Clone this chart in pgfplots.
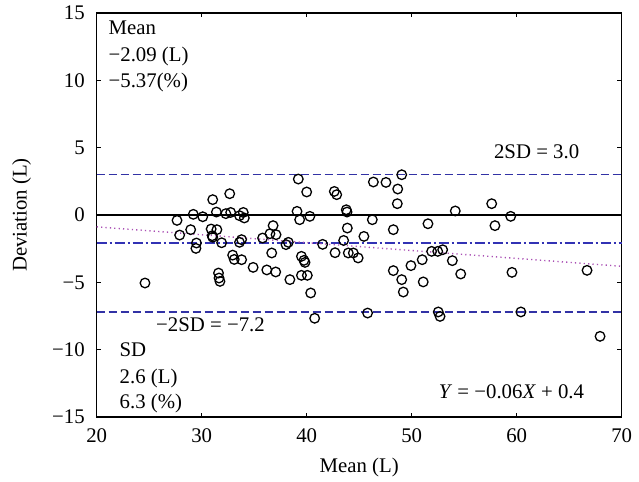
\documentclass[border=0pt]{standalone}
\usepackage{pgfplots}
\pgfplotsset{compat=1.18}
\usepackage{fontspec}
\setmainfont{Liberation Serif}
\definecolor{sdblue}{RGB}{50,50,165}
\definecolor{meanblue}{RGB}{50,50,180}
\definecolor{regpurple}{RGB}{170,80,180}

\begin{document}
\fontsize{10.4}{12}\selectfont
\begin{tikzpicture}
\begin{axis}[
  scale only axis, width=262.5pt, height=202pt,
  at={(0,0)}, anchor=south west,
  xmin=20, xmax=70, ymin=-15, ymax=15,
  xtick={20,30,40,50,60,70}, ytick={-15,-10,-5,0,5,10,15},
  xticklabels={20,30,40,50,60,70},
  yticklabels={−15,−10,−5,0,5,10,15},
  tick align=inside, major tick length=2.2pt,
  axis line style={line width=0.8pt},
  every tick/.style={black, line width=0.6pt},
  tick label style={font=\fontsize{10.4}{12}\selectfont, inner sep=0pt},
  xticklabel style={anchor=base, yshift=-13pt},
  yticklabel style={anchor=east, xshift=-5.8pt},
  every axis x label/.style={at={(axis description cs:0.5,0)}, anchor=base, yshift=-28pt, font=\fontsize{10.4}{12}\selectfont},
  every axis y label/.style={at={(axis description cs:-0.1429,0.5)}, rotate=90, anchor=center, font=\fontsize{10.4}{12}\selectfont},
  xlabel={Mean (L)}, ylabel={Deviation (L)},
  clip=false,
]
% zero line
\addplot[black, line width=0.55pt] coordinates {(20,0) (70,0)};
% +2SD
\addplot[sdblue, line width=0.7pt, dash pattern=on 4pt off 2pt] coordinates {(20,3.0) (70,3.0)};
% -2SD
\addplot[sdblue, line width=0.7pt, dash pattern=on 4pt off 2pt] coordinates {(20,-7.2) (70,-7.2)};
% mean
\addplot[meanblue, line width=0.75pt, dash pattern=on 5pt off 1.5pt on 1pt off 1.5pt] coordinates {(20,-2.09) (70,-2.09)};
% regression
\addplot[regpurple, line width=0.7pt, dash pattern=on 0.6pt off 1.6pt] coordinates {(20,-0.88) (70,-3.81)};
% data
\addplot[only marks, mark=o, mark size=2.4pt, mark options={black, line width=0.65pt}] coordinates {
(24.6,-5.05) (27.65,-0.40) (27.9,-1.49) (28.95,-1.09) (29.2,0.05)
(29.5,-2.08) (29.45,-2.48) (30.1,-0.13) (31.05,1.14) (31.4,0.22)
(30.9,-1.04) (31.0,-1.54) (31.05,-1.65) (31.45,-1.09) (31.9,-2.06)
(32.67,1.58) (32.3,0.10) (32.76,0.19) (31.6,-4.31) (31.65,-4.68)
(31.74,-4.93) (32.95,-2.98) (33.1,-3.30) (33.6,-0.05) (33.6,-2.03)
(33.96,0.19) (34.06,-0.22) (33.8,-1.83) (33.8,-3.32) (34.9,-3.89)
(36.2,-4.08) (37.05,-4.23) (35.8,-1.71) (36.5,-1.39) (37.08,-1.46)
(36.8,-0.79) (36.67,-2.82) (38.03,-2.2) (38.25,-2.03) (38.4,-4.8)
(39.2,2.67) (40.0,1.71) (39.08,0.27) (39.33,-0.35) (40.3,-0.10)
(39.5,-3.07) (39.74,-3.37) (39.84,-3.52) (39.5,-4.48) (40.06,-4.48)
(40.38,-5.79) (40.76,-7.67) (41.52,-2.18) (42.7,-2.8) (42.63,1.75)
(42.86,1.51) (43.77,0.39) (43.84,0.22) (43.87,-0.97) (43.52,-1.89)
(43.96,-2.82) (44.44,-2.82) (44.9,-3.19) (45.45,-1.59) (46.35,2.45)
(46.25,-0.35) (45.8,-7.28) (49.05,2.99) (47.55,2.42) (48.67,1.93)
(48.63,0.84) (48.25,-1.09) (51.55,-0.65) (54.15,0.30) (57.62,0.84)
(57.93,-0.79) (51.9,-2.70) (52.48,-2.70) (52.95,-2.58) (51.0,-3.32)
(49.93,-3.76) (48.25,-4.13) (49.05,-4.80) (49.2,-5.72) (51.1,-4.97)
(53.87,-3.39) (54.67,-4.38) (52.53,-7.2) (52.7,-7.53) (59.43,-0.10)
(59.55,-4.26) (60.4,-7.2) (66.7,-4.11) (67.94,-9.01)
};
\begin{scope}[every node/.style={inner sep=0pt, font=\fontsize{10.4}{12}\selectfont}]
\node[anchor=base west] at (axis cs:21.1,13.39) {Mean};
\node[anchor=base west] at (axis cs:21.1,11.40) {−2.09 (L)};
\node[anchor=base west] at (axis cs:21.1,9.50) {−5.37(\%)};
\node[anchor=base west] at (axis cs:22.15,-10.5) {SD};
\node[anchor=base west] at (axis cs:22.15,-12.48) {2.6 (L)};
\node[anchor=base west] at (axis cs:22.15,-14.38) {6.3 (\%)};
\node[anchor=base] at (axis cs:61.9,4.16) {2SD = 3.0};
\node[anchor=base] at (axis cs:30.84,-8.64) {−2SD = −7.2};
\node[anchor=base] at (axis cs:59.5,-13.59) {\textit{Y} = −0.06\textit{X} + 0.4};
\end{scope}
\end{axis}
\pgfresetboundingbox
\path (-48.35pt,-32.5pt) rectangle (271.15pt,208.5pt);
\end{tikzpicture}
\end{document}
